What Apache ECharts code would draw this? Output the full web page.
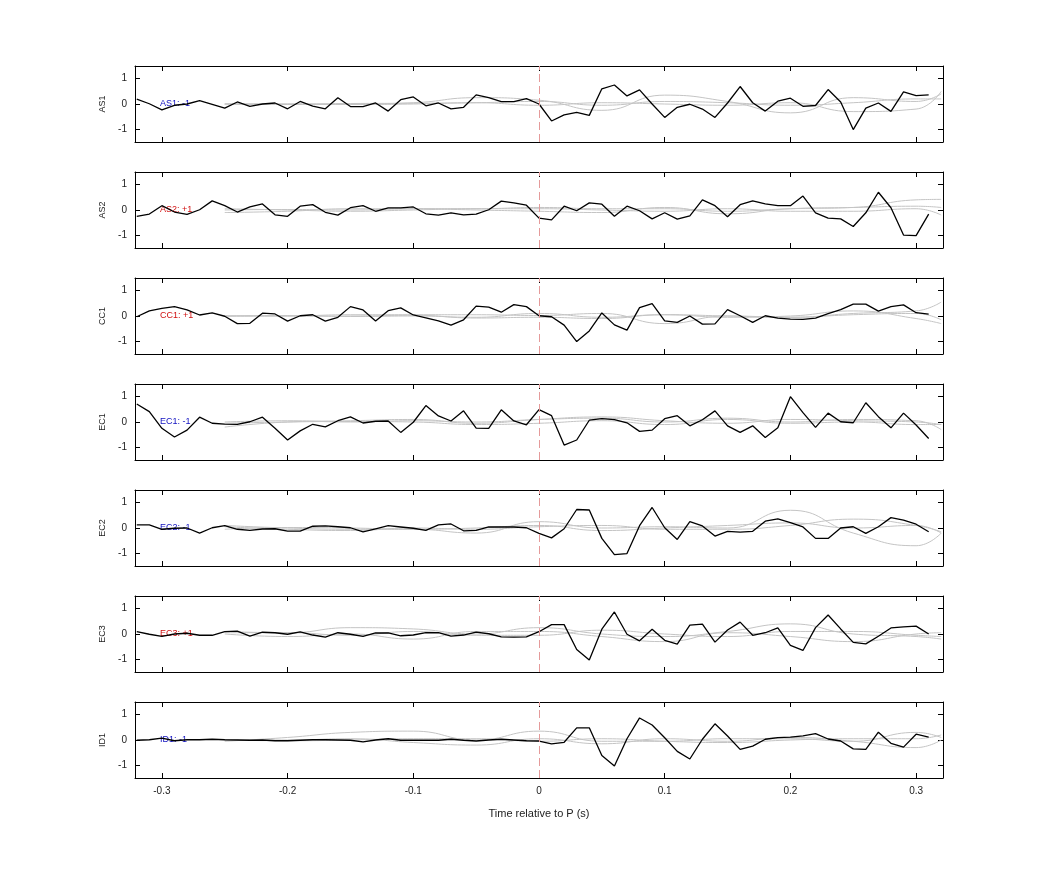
<!DOCTYPE html>
<html>
<head>
<meta charset="utf-8">
<script src="https://cdn.jsdelivr.net/npm/echarts@6/dist/echarts.min.js"></script>
<style>html,body{margin:0;background:#fff}#chart{width:1042px;height:875px}</style>
</head>
<body>
<div id="chart"></div>
<script>
// 通道名称与标注
const stations = ['AS1', 'AS2', 'CC1', 'EC1', 'EC2', 'EC3', 'ID1']
const polarity = ['AS1: -1', 'AS2: +1', 'CC1: +1', 'EC1: -1', 'EC2: -1', 'EC3: +1', 'ID1: -1']
const xTicks = [-0.3, -0.2, -0.1, 0, 0.1, 0.2, 0.3]
const yTicks = [-1, 0, 1]

// 黑线时间：-0.32 到 0.31，步长 0.01
const traceT = [-0.32,-0.31,-0.30,-0.29,-0.28,-0.27,-0.26,-0.25,-0.24,-0.23,-0.22,-0.21,-0.20,-0.19,-0.18,-0.17,-0.16,-0.15,-0.14,-0.13,-0.12,-0.11,-0.10,-0.09,-0.08,-0.07,-0.06,-0.05,-0.04,-0.03,-0.02,-0.01,0,0.01,0.02,0.03,0.04,0.05,0.06,0.07,0.08,0.09,0.10,0.11,0.12,0.13,0.14,0.15,0.16,0.17,0.18,0.19,0.20,0.21,0.22,0.23,0.24,0.25,0.26,0.27,0.28,0.29,0.30,0.31]

const as1 = [0.19,0.01,-0.23,-0.05,0.0,0.13,-0.01,-0.16,0.08,-0.09,0.0,0.04,-0.19,0.1,-0.08,-0.19,0.25,-0.1,-0.1,0.04,-0.28,0.17,0.28,-0.07,0.04,-0.19,-0.13,0.36,0.25,0.09,0.09,0.21,0.0,-0.67,-0.43,-0.33,-0.45,0.6,0.75,0.32,0.56,0.0,-0.53,-0.13,-0.01,-0.2,-0.53,0.04,0.69,0.05,-0.28,0.11,0.23,-0.09,-0.06,0.57,0.08,-1.01,-0.16,0.04,-0.29,0.48,0.33,0.36]
const as2 = [-0.25,-0.16,0.17,-0.08,-0.17,0.01,0.36,0.17,-0.08,0.12,0.24,-0.19,-0.25,0.15,0.21,-0.09,-0.2,0.09,0.17,-0.05,0.08,0.08,0.12,-0.15,-0.2,-0.11,-0.19,-0.16,0.01,0.35,0.28,0.19,-0.32,-0.39,0.15,-0.03,0.28,0.23,-0.25,0.15,-0.03,-0.35,-0.11,-0.36,-0.23,0.4,0.17,-0.27,0.21,0.36,0.24,0.17,0.17,0.55,-0.11,-0.32,-0.35,-0.65,-0.11,0.7,0.09,-0.99,-1.01,-0.16]
const cc1 = [-0.03,0.2,0.3,0.37,0.24,0.04,0.12,-0.01,-0.3,-0.29,0.11,0.08,-0.2,0.01,0.05,-0.2,-0.05,0.37,0.24,-0.2,0.21,0.32,0.04,-0.07,-0.19,-0.36,-0.15,0.39,0.35,0.15,0.45,0.37,0.01,-0.03,-0.36,-1.01,-0.59,0.12,-0.35,-0.56,0.33,0.49,-0.19,-0.25,0.0,-0.32,-0.31,0.25,0.01,-0.25,0.01,-0.08,-0.12,-0.13,-0.08,0.09,0.25,0.47,0.47,0.19,0.37,0.44,0.13,0.07]
const ec1 = [0.71,0.41,-0.25,-0.59,-0.32,0.19,-0.05,-0.08,-0.09,0.01,0.19,-0.25,-0.71,-0.35,-0.09,-0.19,0.05,0.2,-0.04,0.03,0.04,-0.41,-0.01,0.65,0.24,0.04,0.44,-0.24,-0.25,0.48,0.04,-0.11,0.49,0.25,-0.91,-0.71,0.07,0.13,0.09,-0.03,-0.37,-0.32,0.13,0.25,-0.15,0.09,0.44,-0.15,-0.41,-0.15,-0.61,-0.23,1.0,0.37,-0.21,0.35,0.01,-0.03,0.76,0.21,-0.23,0.35,-0.12,-0.65]
const ec2 = [0.12,0.12,-0.05,-0.01,0.0,-0.2,0.01,0.09,-0.05,-0.09,-0.04,-0.03,-0.12,-0.12,0.07,0.08,0.05,0.01,-0.15,-0.03,0.09,0.04,-0.01,-0.09,0.12,0.16,-0.11,-0.09,0.04,0.04,0.04,0.01,-0.21,-0.39,-0.03,0.73,0.71,-0.41,-1.05,-1.01,0.09,0.81,0.01,-0.45,0.25,0.08,-0.32,-0.13,-0.16,-0.13,0.27,0.36,0.21,0.04,-0.41,-0.41,0.0,0.05,-0.21,0.05,0.41,0.31,0.15,-0.15]
const ec3 = [0.09,-0.01,-0.09,0.0,0.03,-0.05,-0.05,0.09,0.11,-0.08,0.07,0.05,-0.01,0.08,-0.04,-0.12,0.05,-0.01,-0.09,0.04,0.04,-0.07,-0.04,0.05,0.05,-0.08,-0.04,0.07,0.01,-0.11,-0.12,-0.11,0.09,0.37,0.37,-0.61,-1.03,0.19,0.87,-0.01,-0.27,0.19,-0.25,-0.4,0.35,0.39,-0.32,0.16,0.47,-0.05,0.05,0.24,-0.45,-0.65,0.25,0.75,0.2,-0.33,-0.39,-0.09,0.24,0.28,0.31,0.0]
const id1 = [-0.01,0.01,0.07,-0.03,0.01,0.01,0.03,0.01,0.0,-0.01,0.0,-0.03,-0.03,-0.01,0.01,0.01,0.0,-0.01,-0.07,0.0,0.05,-0.01,-0.01,-0.01,-0.01,0.03,-0.01,-0.04,0.0,0.03,0.0,-0.03,-0.04,-0.15,-0.09,0.48,0.48,-0.61,-1.03,0.05,0.87,0.59,0.09,-0.45,-0.75,0.03,0.64,0.16,-0.37,-0.24,0.03,0.09,0.11,0.16,0.25,0.04,-0.04,-0.35,-0.37,0.31,-0.13,-0.28,0.23,0.11]
const traces = [as1, as2, cc1, ec1, ec2, ec3, id1]

// 灰色平滑曲线（合成波形）
const synT = [-0.25,-0.2,-0.15,-0.1,-0.05,0,0.05,0.1,0.15,0.2,0.25,0.3,0.32]
const synAS1 = [
  [0,0,0.02,0.03,0.05,0.1,-0.05,0.1,0.05,-0.05,0.05,0.2,0.2],
  [0,-0.02,0,0.05,0.25,0.15,-0.25,0.35,0.1,-0.35,0.25,0.1,0.4],
  [0,0,-0.02,0,0.05,-0.05,0.05,0.0,-0.05,0.05,-0.3,-0.2,0.5]
]
const synAS2 = [
  [0,0.02,0,0.05,0.05,0.1,0.05,0.05,-0.05,0.05,0.1,0.4,0.42],
  [-0.1,-0.05,0.05,0.05,0.0,-0.05,-0.1,0.1,-0.15,0.05,0.1,0.15,0.1],
  [0.05,0,-0.05,0,0.05,0.05,0,-0.05,0.05,-0.05,-0.05,0.05,-0.2]
]
const synCC1 = [
  [0,0,0.05,0.05,0.05,0.02,0.1,-0.3,0.0,-0.05,0.1,0.2,0.55],
  [0,0.02,-0.02,0.0,-0.05,0.1,-0.05,0.05,-0.05,0.0,0.2,-0.1,-0.3],
  [0,0,0,0.03,-0.08,-0.05,-0.1,0.05,0.0,-0.05,0.05,0.1,-0.15]
]
const synEC1 = [
  [-0.2,0.0,0.05,0.1,-0.05,0.1,0.2,0.05,-0.05,0.1,0.05,0.0,-0.1],
  [0,0.05,0.0,0.05,0.0,0.1,0.15,0.0,0.15,0.0,0.1,0.05,-0.3],
  [-0.05,0,0.02,0,-0.1,-0.05,0.05,-0.1,0.1,-0.05,0.0,-0.1,-0.1]
]
const synEC2 = [
  [0.1,0.0,-0.05,-0.05,-0.2,0.25,0.0,0.05,0.0,0.7,-0.2,-0.7,-0.2],
  [0.05,-0.05,-0.1,0.0,-0.05,0.05,0.1,-0.05,-0.05,0.1,0.35,0.1,-0.15],
  [-0.05,0.02,0.0,-0.05,0.0,0.1,-0.1,0.0,0.1,0.2,0.0,0.1,-0.2]
]
const synEC3 = [
  [0.1,0.05,0.25,0.2,0.0,0.25,0.0,-0.1,0.1,0.4,0.0,-0.1,-0.2],
  [0.0,-0.1,0.0,-0.2,0.1,0.1,-0.1,-0.3,0.05,-0.1,-0.3,0.0,0.05],
  [0.05,0.05,-0.05,0.1,-0.05,-0.05,0.15,0.0,-0.1,0.1,0.1,-0.05,-0.1]
]
const synID1 = [
  [-0.05,0.1,0.3,0.35,0.0,0.35,-0.05,-0.05,0.05,0.05,-0.05,0.3,0.1],
  [0,0.0,0.05,-0.1,-0.2,0.05,-0.15,0.05,-0.05,0.1,-0.05,-0.3,0.0],
  [0,-0.03,0,0.05,0.05,-0.05,0.05,-0.05,-0.1,0.0,0.05,0.05,0.2]
]
const synthetics = [synAS1, synAS2, synCC1, synEC1, synEC2, synEC3, synID1]

const chart = echarts.init(document.getElementById('chart'))
const font = 'Helvetica, Arial, sans-serif'
const grid = [], xAxis = [], yAxis = [], series = [], graphic = []

stations.forEach((name, i) => {
    const top = 66 + 106 * i
    grid.push({ left: 135, width: 808, top: top, height: 76 })
    const last = i === stations.length - 1
    const xBase = { gridIndex: i, type: 'value', min: -0.3214, max: 0.3214,
        axisLine: { onZero: false, lineStyle: { color: '#000' } },
        axisTick: { inside: true, length: 5, customValues: xTicks, lineStyle: { color: '#000' } },
        splitLine: { show: false } }
    xAxis.push(Object.assign({}, xBase, { position: 'bottom',
        axisLabel: { show: last, customValues: xTicks, color: '#222', fontSize: 10, fontFamily: font, margin: 8,
            formatter: v => String(Math.round(v * 10) / 10) },
        name: last ? 'Time relative to P (s)' : '', nameLocation: 'middle', nameGap: 30,
        nameTextStyle: { color: '#222', fontSize: 11, fontFamily: font } }))
    xAxis.push(Object.assign({}, xBase, { position: 'top', axisLabel: { show: false } }))
    const yBase = { gridIndex: i, type: 'value', min: -1.5, max: 1.5,
        axisLine: { show: true, onZero: false, lineStyle: { color: '#000' } },
        axisTick: { inside: true, length: 5, customValues: yTicks, lineStyle: { color: '#000' } },
        splitLine: { show: false } }
    yAxis.push(Object.assign({}, yBase, { position: 'left',
        axisLabel: { customValues: yTicks, color: '#222', fontSize: 10, fontFamily: font, margin: 8 },
        name: name, nameLocation: 'middle', nameGap: 24, nameRotate: 90,
        nameTextStyle: { color: '#222', fontSize: 9, fontFamily: font } }))
    yAxis.push(Object.assign({}, yBase, { position: 'right', axisLabel: { show: false } }))

    synthetics[i].forEach(s => {
        series.push({ type: 'line', xAxisIndex: 2 * i, yAxisIndex: 2 * i, smooth: 0.5, symbol: 'none',
            lineStyle: { color: '#c4c4c4', width: 1 }, data: synT.map((t, k) => [t, s[k]]) })
    })
    series.push({ type: 'line', xAxisIndex: 2 * i, yAxisIndex: 2 * i, symbol: 'none',
        lineStyle: { color: '#000', width: 1.3 }, data: traceT.map((t, k) => [t, traces[i][k]]),
        markLine: { silent: true, symbol: 'none', label: { show: false },
            lineStyle: { color: '#e59a9a', type: [8, 4], width: 1 }, data: [{ xAxis: 0 }] } })

    graphic.push({ type: 'text', left: 160, top: top + 33,
        style: { text: polarity[i], fill: polarity[i].indexOf('-') >= 0 ? '#1010c0' : '#d01010',
            fontSize: 9, fontFamily: font } })
})

chart.setOption({ animation: false, grid, xAxis, yAxis, series, graphic })
</script>
</body>
</html>
